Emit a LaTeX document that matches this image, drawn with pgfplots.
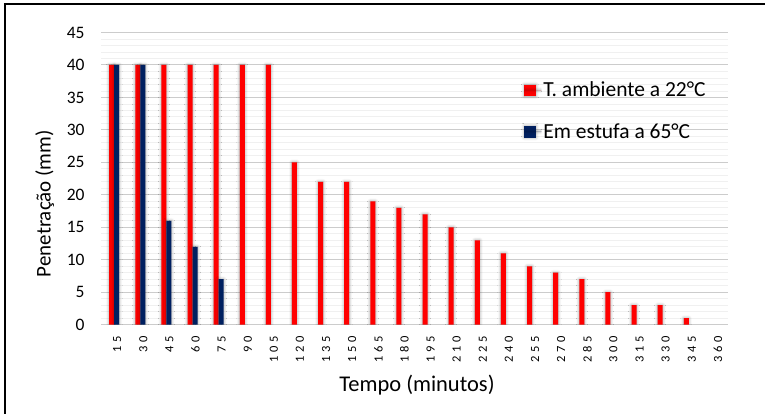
\documentclass[border=0pt]{standalone}
\usepackage{pgfplots}
\pgfplotsset{compat=1.18}
\usepackage{fontspec}
\setmainfont{Carlito}
\newfontfamily\spaced[LetterSpace=30]{Carlito}
\usetikzlibrary{shadows.blur}
\definecolor{redbar}{RGB}{255,0,0}
\definecolor{navybar}{RGB}{0,32,96}
\begin{document}
\begin{tikzpicture}[x=1pt,y=1pt]
\path (0,0) rectangle (766,414);
\draw[line width=1.4pt] (4,410) -- (766,410);
\draw[line width=1.4pt] (5,410.7) -- (5,0);
\begin{axis}[
  at={(101.2pt,89pt)}, anchor=south west, scale only axis,
  width=627.4pt, height=292.5pt,
  ymin=0, ymax=45, xmin=-0.5, xmax=23.5,
  ybar=0pt, bar width=5pt,
  ytick={0,5,...,45},
  minor y tick num=4,
  xtick={0,...,23},
  xticklabels={15,30,45,60,75,90,105,120,135,150,165,180,195,210,225,240,255,270,285,300,315,330,345,360},
  xticklabel style={rotate=90, anchor=east, font=\spaced\fontsize{12.5}{12.5}\selectfont, xshift=-8pt, yshift=-3pt},
  yticklabel style={font=\fontsize{17.5}{17.5}\selectfont, xshift=-13pt},
  /pgf/number format/assume math mode=true,
  major tick length=0pt, minor tick length=0pt,
  axis line style={draw=none},
  ymajorgrids, yminorgrids,
  major grid style={draw=gray!40, line width=1pt},
  minor grid style={draw=gray!12, line width=0.8pt},
  xlabel={Tempo (minutos)},
  ylabel={Penetração (mm)},
  xlabel style={font=\fontsize{22.5}{22.5}\selectfont, at={(axis description cs:0.504,-0.205)}, anchor=center},
  ylabel style={font=\fontsize{21}{21}\selectfont, at={(axis description cs:-0.0899,0.414)}, anchor=center, rotate=0},
  legend style={at={(0.675,0.838)}, anchor=north west, draw=none, fill=none,
    font=\fontsize{21.5}{21.5}\selectfont, row sep=21pt, inner sep=0pt,
    cells={anchor=west}},
  legend cell align=left,
]
\addplot[fill=redbar, draw=none, blur shadow={shadow xshift=0pt, shadow yshift=0pt, shadow blur radius=3pt, shadow opacity=40},
  legend image code/.code={\fill[redbar] (0pt,-6pt) rectangle (11.5pt,5.5pt); \path (0pt,0pt) -- (17pt,0pt);}]
  coordinates {(0,40) (1,40) (2,40) (3,40) (4,40) (5,40) (6,40) (7,25) (8,22) (9,22) (10,19) (11,18) (12,17) (13,15) (14,13) (15,11) (16,9) (17,8) (18,7) (19,5) (20,3) (21,3) (22,1)};
\addlegendentry{T. ambiente a 22°C}
\addplot[fill=navybar, draw=none, blur shadow={shadow xshift=0pt, shadow yshift=0pt, shadow blur radius=3pt, shadow opacity=40},
  legend image code/.code={\fill[navybar] (0pt,-6pt) rectangle (11.5pt,5.5pt); \path (0pt,0pt) -- (17pt,0pt);}]
  coordinates {(0,40) (1,40) (2,16) (3,12) (4,7)};
\addlegendentry{Em estufa a 65°C}
\end{axis}
\end{tikzpicture}
\end{document}
